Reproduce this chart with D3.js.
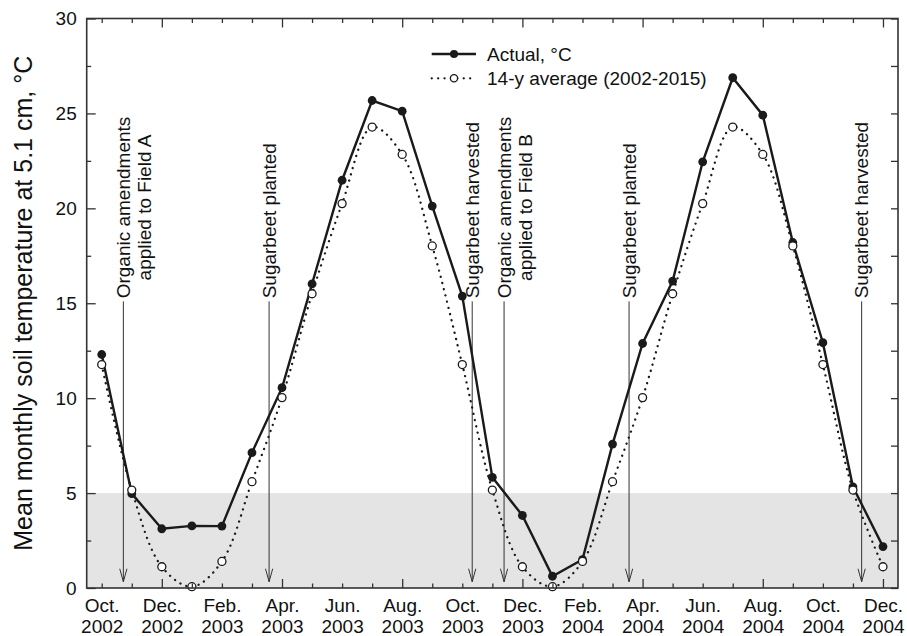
<!DOCTYPE html>
<html><head><meta charset="utf-8">
<script src="https://cdn.jsdelivr.net/npm/d3@7"></script>
<style>
body{margin:0;background:#fff}
text{font-family:"Liberation Sans",Arial,sans-serif;fill:#111}
</style>
</head><body>
<svg id="c" width="907" height="636"></svg>
<script>
// ---- data ----
const monthNames = ["Oct. 2002","Nov. 2002","Dec. 2002","Jan. 2003","Feb. 2003","Mar. 2003","Apr. 2003","May 2003","Jun. 2003","Jul. 2003","Aug. 2003","Sep. 2003","Oct. 2003","Nov. 2003","Dec. 2003","Jan. 2004","Feb. 2004","Mar. 2004","Apr. 2004","May 2004","Jun. 2004","Jul. 2004","Aug. 2004","Sep. 2004","Oct. 2004","Nov. 2004","Dec. 2004"];
const actual = [12.3, 4.97, 3.12, 3.27, 3.26, 7.13, 10.55, 16.02, 21.48, 25.68, 25.12, 20.12, 15.38, 5.83, 3.82, 0.62, 1.5, 7.58, 12.88, 16.17, 22.45, 26.88, 24.91, 18.2, 12.92, 5.33, 2.18];
const average = [11.77, 5.16, 1.12, 0.07, 1.4, 5.6, 10.03, 15.5, 20.25, 24.28, 22.84, 18.02, 11.77, 5.16, 1.12, 0.07, 1.4, 5.6, 10.03, 15.5, 20.25, 24.28, 22.84, 18.02, 11.77, 5.16, 1.12];
const yTicks = [0, 5, 10, 15, 20, 25, 30];
const bandRange = [0, 5];
const eventMonths = [0.72, 5.57, 12.33, 13.39, 17.55, 25.29];
const eventLabels = [["Organic amendments","applied to Field A"],["Sugarbeet planted"],["Sugarbeet harvested"],["Organic amendments","applied to Field B"],["Sugarbeet planted"],["Sugarbeet harvested"]];
const seriesNames = ["Actual, °C", "14-y average (2002-2015)"];
const yTitle = "Mean monthly soil temperature at 5.1 cm, °C";

// ---- layout ----
const L = 86.7, R = 898, T = 18.5, B = 588;
const svg = d3.select("#c");
const x = d3.scaleLinear().domain([-0.5, 26.5]).range([L, R]);
const y = d3.scaleLinear().domain([0, 30]).range([B, T]);
const ink = "#1a1a1a";

// band
svg.append("rect").attr("x", L).attr("width", R - L)
  .attr("y", y(bandRange[1])).attr("height", y(bandRange[0]) - y(bandRange[1]))
  .attr("fill", "#e4e4e4");

// event arrows
const tipY = y(0.33), topY = y(15.1);
eventMonths.forEach((m, i) => {
  const ax = x(m);
  const g = svg.append("g");
  g.append("line").attr("x1", ax).attr("x2", ax).attr("y1", topY).attr("y2", tipY)
    .attr("stroke", "#333").attr("stroke-width", 1);
  g.append("path").attr("d", `M${ax-3.6},${tipY-13}L${ax},${tipY}L${ax+3.6},${tipY-13}`)
    .attr("fill", "none").attr("stroke", "#333").attr("stroke-width", 1);
  const lines = eventLabels[i];
  const t0 = g.append("text").attr("font-size", 19).attr("text-anchor", "start")
    .attr("transform", `translate(${ax + 6.5},${topY - 3}) rotate(-90)`).text(lines[0]);
  if (lines.length > 1) {
    const len = t0.node().getComputedTextLength();
    t0.attr("text-anchor", "middle").attr("transform", `translate(${ax + 6.5},${topY - 3 - len/2}) rotate(-90)`);
    g.append("text").attr("font-size", 19).attr("text-anchor", "middle")
      .attr("transform", `translate(${ax + 6.5 + 21},${topY - 3 - len/2}) rotate(-90)`).text(lines[1]);
  }
});

// lines
const idx = d3.range(monthNames.length);
svg.append("path").datum(idx)
  .attr("d", d3.line().x(i => x(i)).y(i => y(average[i])).curve(d3.curveCatmullRom))
  .attr("fill", "none").attr("stroke", ink).attr("stroke-width", 2.3)
  .attr("stroke-dasharray", "0.1,6.3").attr("stroke-linecap", "round");
svg.append("path").datum(idx)
  .attr("d", d3.line().x(i => x(i)).y(i => y(actual[i])))
  .attr("fill", "none").attr("stroke", ink).attr("stroke-width", 2.4);
svg.selectAll("circle.a").data(idx).join("circle").attr("class", "a")
  .attr("cx", i => x(i)).attr("cy", i => y(actual[i])).attr("r", 4.4).attr("fill", ink);
svg.selectAll("circle.v").data(idx).join("circle").attr("class", "v")
  .attr("cx", i => x(i)).attr("cy", i => y(average[i])).attr("r", 4).attr("fill", "#fff")
  .attr("stroke", ink).attr("stroke-width", 1.3);

// axes
const axB = svg.append("g").attr("transform", `translate(0,${B})`)
  .call(d3.axisBottom(x).tickValues(idx).tickSize(0).tickPadding(0).tickFormat(i => i % 2 === 0 ? monthNames[i] : ""));
axB.select(".domain").remove();
axB.selectAll(".tick line").attr("y2", i => i % 4 === 2 ? -9 : -4.5).attr("stroke", "#333").attr("stroke-width", 1.3);
axB.selectAll(".tick text").each(function(i) {
  const t = d3.select(this); const parts = monthNames[i].split(" ");
  t.text(null).attr("y", 0).attr("dy", null).attr("font-size", 19).attr("fill", "#111");
  if (i % 2 !== 0) return;
  t.append("tspan").attr("x", 0).attr("y", 24).text(parts[0]);
  t.append("tspan").attr("x", 0).attr("y", 44.5).text(parts[1]);
});
const axT = svg.append("g").attr("transform", `translate(0,${T})`)
  .call(d3.axisTop(x).tickValues(idx).tickSize(0).tickFormat(""));
axT.select(".domain").remove();
axT.selectAll(".tick line").attr("y2", i => i % 4 === 2 ? 9 : 4.5).attr("stroke", "#333").attr("stroke-width", 1.3);

const axL = svg.append("g").attr("transform", `translate(${L},0)`)
  .call(d3.axisLeft(y).tickValues(d3.range(0, 30.1, 2.5)).tickSize(0).tickPadding(10)
    .tickFormat(v => yTicks.includes(v) ? d3.format("d")(v) : ""));
axL.select(".domain").remove();
axL.selectAll(".tick line").attr("x2", v => yTicks.includes(v) ? 9 : 4.5).attr("stroke", "#333").attr("stroke-width", 1.3);
axL.selectAll(".tick text").attr("font-size", 19).attr("fill", "#111").attr("font-family", null);
const axR = svg.append("g").attr("transform", `translate(${R},0)`)
  .call(d3.axisRight(y).tickValues(d3.range(0, 30.1, 2.5)).tickSize(0).tickFormat(""));
axR.select(".domain").remove();
axR.selectAll(".tick line").attr("x2", -7).attr("stroke", "#333").attr("stroke-width", 1.3);

svg.append("rect").attr("x", L).attr("y", T).attr("width", R - L).attr("height", B - T)
  .attr("fill", "none").attr("stroke", "#333").attr("stroke-width", 1.6);

// y title
svg.append("text").attr("font-size", 25).attr("text-anchor", "middle")
  .attr("transform", `translate(32,${(T + B) / 2}) rotate(-90)`).text(yTitle);

// legend
const lg = svg.append("g");
const lx0 = 431.7, lx1 = 476, lmx = 454, ly = [54, 78.3];
lg.append("line").attr("x1", lx0).attr("x2", lx1).attr("y1", ly[0]).attr("y2", ly[0]).attr("stroke", ink).attr("stroke-width", 2.4);
lg.append("circle").attr("cx", lmx).attr("cy", ly[0]).attr("r", 4).attr("fill", ink);
lg.append("line").attr("x1", lx0).attr("x2", lx1).attr("y1", ly[1]).attr("y2", ly[1]).attr("stroke", ink).attr("stroke-width", 2.3)
  .attr("stroke-dasharray", "0.1,6.3").attr("stroke-linecap", "round");
lg.append("circle").attr("cx", lmx).attr("cy", ly[1]).attr("r", 3.6).attr("fill", "#fff").attr("stroke", ink).attr("stroke-width", 1.3);
seriesNames.forEach((s, i) => lg.append("text").attr("x", 487).attr("y", ly[i]).attr("dy", "0.35em").attr("font-size", 19).text(s));
</script>
</body></html>
